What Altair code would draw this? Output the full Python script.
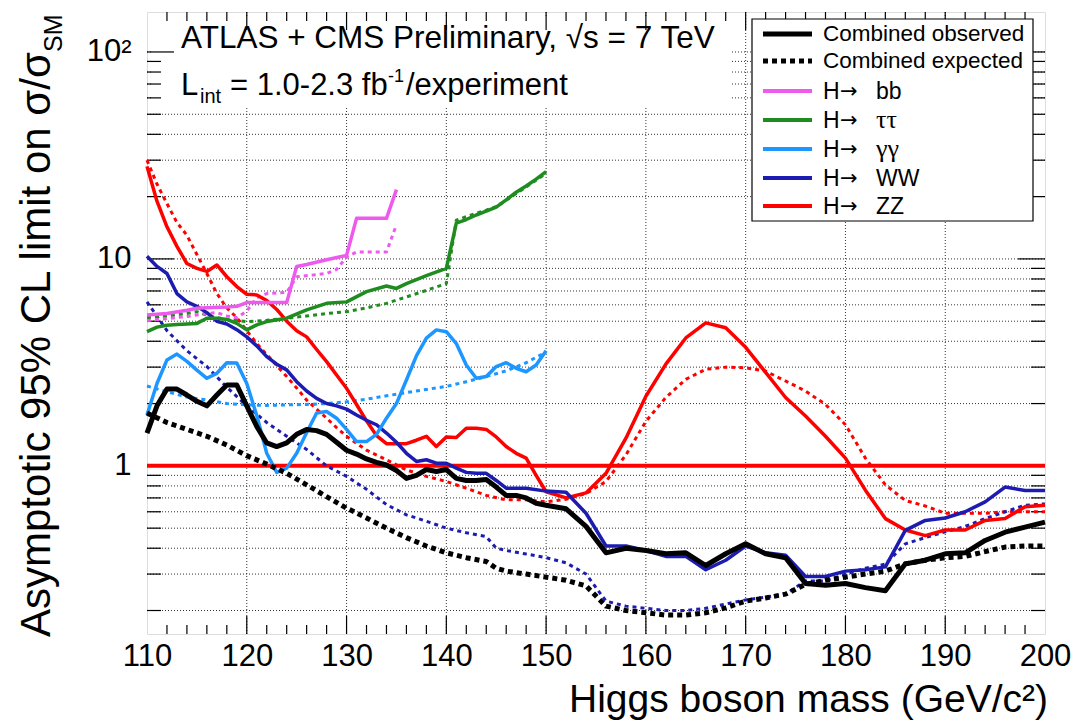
import altair as alt
import pandas as pd

FONT = "Liberation Sans"
TICKFONT = "Liberation Sans Narrow, Liberation Sans"

# ---------------- data ----------------
comb_obs_m = [110, 111, 112, 113, 114, 115, 116, 117, 118, 119, 120, 121, 122, 123, 124, 125, 126, 127, 128, 129,
              130, 131, 132, 133, 134, 135, 136, 137, 138, 139, 140, 141, 142, 143, 144, 145, 146, 147, 148, 149,
              150, 152, 154, 156, 158, 160, 162, 164, 166, 168, 170, 172, 174, 176, 178, 180, 182, 184, 186, 188,
              190, 192, 194, 196, 198, 200]
comb_obs_v = [1.44, 1.95, 2.35, 2.35, 2.2, 2.05, 1.95, 2.2, 2.46, 2.46, 1.95, 1.55, 1.29, 1.24, 1.29, 1.42, 1.5, 1.48,
              1.42, 1.3, 1.19, 1.14, 1.08, 1.04, 1.01, 0.95, 0.87, 0.9, 0.96, 0.94, 0.96, 0.87, 0.85, 0.85, 0.86,
              0.79, 0.72, 0.72, 0.7, 0.66, 0.645, 0.62, 0.51, 0.38, 0.4, 0.39, 0.376, 0.38, 0.33, 0.376, 0.42, 0.376,
              0.36, 0.27, 0.265, 0.27, 0.258, 0.249, 0.336, 0.35, 0.376, 0.38, 0.436, 0.478, 0.506, 0.535]

comb_exp_m = [110, 112, 114, 116, 118, 120, 122, 124, 126, 128, 130, 132, 134, 136, 138, 140, 142, 144, 145, 146,
              148, 150, 152, 154, 156, 158, 160, 162, 164, 166, 168, 170, 172, 174, 176, 178, 180, 182, 184, 186,
              188, 190, 192, 194, 196, 198, 200]
comb_exp_v = [1.8, 1.62, 1.5, 1.39, 1.26, 1.12, 1.02, 0.92, 0.81, 0.71, 0.625, 0.56, 0.5, 0.45, 0.41, 0.38, 0.36,
              0.345, 0.32, 0.31, 0.3, 0.29, 0.28, 0.263, 0.21, 0.2, 0.195, 0.19, 0.19, 0.195, 0.206, 0.222, 0.23,
              0.24, 0.268, 0.28, 0.29, 0.3, 0.31, 0.336, 0.35, 0.36, 0.365, 0.385, 0.405, 0.41, 0.41]

bb_obs_m = [110, 112, 114, 115, 116, 118, 119, 120, 122, 124, 125, 126, 128, 130, 131, 132, 134, 135]
bb_obs_v = [5.36, 5.45, 5.65, 5.77, 5.8, 5.85, 5.9, 6.15, 6.15, 6.15, 9.2, 9.4, 9.9, 10.4, 15.7, 15.7, 15.7, 21.6]
bb_exp_m = [110, 112, 114, 116, 117, 118, 119, 120, 121, 122, 124, 125, 128, 129, 130, 131, 134, 135]
bb_exp_v = [5.03, 5.15, 5.27, 5.45, 5.5, 5.3, 5.2, 5.6, 6.5, 6.8, 6.9, 8.2, 8.5, 8.9, 10.2, 10.8, 10.8, 14.6]

tt_obs_m = [110, 111, 112, 113, 114, 115, 116, 117, 118, 119, 120, 121, 122, 124, 126, 128, 130, 132, 134, 135,
            136, 138, 140, 141, 142, 143, 144, 145, 146, 147, 148, 149, 150]
tt_obs_v = [4.45, 4.68, 4.78, 4.82, 4.85, 4.88, 5.17, 5.17, 5.1, 4.88, 4.54, 4.8, 4.98, 5.17, 5.67, 6.1, 6.2, 6.95,
            7.4, 7.2, 7.6, 8.3, 9.0, 14.9, 15.5, 16.3, 17.0, 17.8, 19.3, 21.0, 22.5, 24.3, 26.4]
tt_exp_m = [110, 112, 114, 115, 116, 117, 118, 120, 122, 124, 126, 128, 130, 132, 134, 136, 138, 140, 141, 142,
            144, 145, 146, 148, 150]
tt_exp_v = [5.2, 5.3, 5.45, 5.56, 5.35, 5.2, 5.1, 4.98, 5.05, 5.17, 5.3, 5.45, 5.56, 5.8, 6.1, 6.55, 7.05, 7.6,
            15.4, 16.0, 17.2, 17.9, 19.2, 22.3, 25.9]

gg_obs_m = [110, 111, 112, 113, 114, 115, 116, 117, 118, 119, 120, 121, 122, 123, 124, 125, 126, 127, 128, 129,
            130, 131, 132, 133, 134, 135, 136, 137, 138, 139, 140, 141, 142, 143, 144, 145, 146, 147, 148, 149, 150]
gg_obs_v = [1.76, 2.5, 3.25, 3.47, 3.2, 2.9, 2.65, 2.8, 3.15, 3.14, 2.5, 1.75, 1.15, 0.93, 0.975, 1.15, 1.45, 1.8,
            1.83, 1.7, 1.5, 1.31, 1.31, 1.42, 1.7, 2.0, 2.6, 3.4, 4.14, 4.54, 4.45, 3.9, 3.07, 2.65, 2.7, 3.02,
            3.15, 2.96, 2.85, 3.07, 3.6]
gg_exp_m = [110, 112, 114, 116, 118, 120, 122, 124, 126, 128, 130, 132, 134, 136, 138, 140, 142, 144, 146, 148, 150]
gg_exp_v = [2.43, 2.28, 2.15, 2.08, 2.0, 1.97, 1.96, 1.97, 1.98, 2.0, 2.04, 2.1, 2.18, 2.26, 2.34, 2.42, 2.55, 2.7,
            2.88, 3.15, 3.55]

ww_obs_m = [110, 111, 112, 113, 114, 115, 116, 117, 118, 119, 120, 121, 122, 123, 124, 125, 126, 127, 128, 129,
            130, 131, 132, 133, 134, 135, 136, 137, 138, 139, 140, 141, 142, 143, 144, 145, 146, 147, 148, 150,
            152, 154, 156, 158, 160, 162, 164, 166, 168, 170, 172, 174, 176, 178, 180, 182, 184, 186, 188, 190,
            192, 194, 196, 198, 200]
ww_obs_v = [10.3, 9.2, 8.5, 6.8, 6.2, 5.9, 5.5, 5.0, 4.85, 4.55, 4.2, 3.8, 3.37, 3.1, 2.91, 2.55, 2.3, 2.12, 2.0,
            1.95, 1.88, 1.76, 1.66, 1.58, 1.44, 1.3, 1.15, 1.05, 1.07, 1.03, 1.03, 0.975, 0.93, 0.92, 0.92, 0.85,
            0.78, 0.78, 0.78, 0.755, 0.745, 0.59, 0.41, 0.41, 0.39, 0.365, 0.366, 0.315, 0.35, 0.41, 0.38, 0.37,
            0.292, 0.292, 0.31, 0.315, 0.325, 0.488, 0.545, 0.56, 0.6, 0.67, 0.79, 0.76, 0.76]
ww_exp_m = [110, 112, 114, 116, 118, 120, 122, 124, 126, 128, 130, 132, 134, 136, 138, 140, 142, 144, 145, 146,
            148, 150, 152, 154, 156, 158, 160, 162, 164, 166, 168, 170, 172, 174, 176, 178, 180, 182, 184, 186,
            188, 190, 192, 194, 196, 198, 200]
ww_exp_v = [6.2, 4.5, 3.6, 3.02, 2.4, 1.95, 1.62, 1.39, 1.2, 1.0, 0.89, 0.77, 0.65, 0.58, 0.54, 0.5, 0.475, 0.455,
            0.4, 0.39, 0.375, 0.36, 0.34, 0.3, 0.222, 0.21, 0.205, 0.2, 0.2, 0.205, 0.215, 0.225, 0.232, 0.24,
            0.278, 0.278, 0.3, 0.32, 0.335, 0.42, 0.45, 0.48, 0.51, 0.556, 0.6, 0.645, 0.655]

zz_obs_m = [110, 111, 112, 113, 114, 115, 116, 117, 118, 119, 120, 121, 122, 123, 124, 125, 126, 127, 128, 129,
            130, 131, 132, 133, 134, 135, 136, 137, 138, 139, 140, 141, 142, 143, 144, 145, 146, 147, 148, 149,
            150, 152, 154, 156, 158, 160, 162, 164, 166, 168, 170, 172, 174, 176, 178, 180, 182, 184, 186, 188,
            190, 192, 194, 196, 198, 200]
zz_obs_v = [28, 19, 14.3, 11.5, 9.5, 9.0, 8.7, 9.35, 8.2, 7.35, 6.75, 6.7, 6.3, 5.7, 5.0, 4.5, 4.2, 3.65, 3.19, 2.75,
            2.37, 1.98, 1.65, 1.4, 1.28, 1.28, 1.28, 1.33, 1.39, 1.24, 1.38, 1.37, 1.52, 1.52, 1.5, 1.38, 1.24,
            1.15, 1.09, 0.9, 0.75, 0.7, 0.74, 0.92, 1.36, 2.17, 3.1, 4.15, 4.91, 4.65, 3.74, 2.83, 2.14, 1.74,
            1.39, 1.09, 0.763, 0.556, 0.49, 0.46, 0.49, 0.49, 0.545, 0.556, 0.635, 0.645]
zz_exp_m = [110, 111, 112, 113, 114, 115, 116, 117, 118, 119, 120, 121, 122, 123, 124, 125, 126, 127, 128, 129,
            130, 132, 134, 136, 138, 140, 142, 144, 146, 148, 150, 152, 154, 156, 158, 160, 162, 164, 166, 168,
            170, 172, 174, 176, 178, 180, 182, 184, 186, 188, 190, 192, 194, 196, 198, 200]
zz_exp_v = [30, 23, 18.5, 15, 13, 10.5, 8.5, 6.8, 5.8, 5.2, 4.5, 3.9, 3.45, 3.05, 2.7, 2.38, 2.08, 1.88, 1.7, 1.53,
            1.39, 1.19, 1.07, 0.956, 0.89, 0.84, 0.78, 0.72, 0.685, 0.685, 0.67, 0.69, 0.735, 0.84, 1.13, 1.64,
            2.14, 2.62, 2.93, 3.0, 2.98, 2.87, 2.57, 2.3, 1.98, 1.58, 1.09, 0.81, 0.68, 0.64, 0.59, 0.59, 0.59,
            0.6, 0.6, 0.6]

legend_labels = ["Combined observed", "Combined expected", "bb", "\u03c4\u03c4", "\u03b3\u03b3", "WW", "ZZ"]
legend_is_channel = [False, False, True, True, True, True, True]
legend_font = [None, None, None, "Liberation Serif", "Liberation Serif", None, None]

x_major = [120, 130, 140, 150, 160, 170, 180, 190]
x_minor = [m for m in range(112, 200, 2) if m % 10 != 0]
y_major = [1, 10, 100]
y_minor = [0.2, 0.3, 0.4, 0.5, 0.6, 0.7, 0.8, 0.9, 2, 3, 4, 5, 6, 7, 8, 9, 20, 30, 40, 50, 60, 70, 80, 90]

# ---------------- styles ----------------
C_BB, C_TT, C_GG, C_WW, C_ZZ = "#ee5aee", "#1f8c1f", "#1e96ff", "#1c1cb0", "#ff0000"
styles = {
    "zz_exp": (C_ZZ, 3, [4, 4]), "ww_exp": (C_WW, 3, [4, 4]), "gg_exp": (C_GG, 3, [4, 4]),
    "tt_exp": (C_TT, 3, [4, 4]), "bb_exp": (C_BB, 3, [4, 4]),
    "zz_obs": (C_ZZ, 3.5, None), "ww_obs": (C_WW, 3.5, None), "gg_obs": (C_GG, 3.5, None),
    "tt_obs": (C_TT, 3.5, None), "bb_obs": (C_BB, 3.5, None),
    "comb_exp": ("#000000", 5, [5, 4]), "comb_obs": ("#000000", 5, None),
}
series = [
    ("zz_exp", zz_exp_m, zz_exp_v), ("ww_exp", ww_exp_m, ww_exp_v), ("gg_exp", gg_exp_m, gg_exp_v),
    ("tt_exp", tt_exp_m, tt_exp_v), ("bb_exp", bb_exp_m, bb_exp_v),
    ("zz_obs", zz_obs_m, zz_obs_v), ("ww_obs", ww_obs_m, ww_obs_v), ("gg_obs", gg_obs_m, gg_obs_v),
    ("tt_obs", tt_obs_m, tt_obs_v), ("bb_obs", bb_obs_m, bb_obs_v),
    ("comb_exp", comb_exp_m, comb_exp_v), ("comb_obs", comb_obs_m, comb_obs_v),
]
rows = []
for key, ms, vs in series:
    for m, v in zip(ms, vs):
        rows.append({"series": key, "mass": m, "value": v})
df = pd.DataFrame(rows)

W, H = 898, 622
xscale = alt.Scale(domain=[110, 200], nice=False, zero=False)
yscale = alt.Scale(type="log", domain=[0.154, 156], nice=False)
xaxis = alt.Axis(values=list(range(110, 201, 10)), grid=False, ticks=False, tickSize=0, domain=False,
                 labelFont=TICKFONT, labelFontSize=31, labelColor="black", labelPadding=31,
                 labelBaseline="alphabetic", labelFlush=False, labelOverlap=False, title=None)
yaxis = alt.Axis(values=y_minor + y_major, grid=False, ticks=False, tickSize=0, domain=False,
                 labelFont=TICKFONT, labelFontSize=31, labelColor="black", labelPadding=16,
                 labelOverlap=False, labelFlush=False,
                 labelExpr="datum.value == 1 ? '1' : datum.value == 10 ? '10' : datum.value == 100 ? '10\u00b2' : ''",
                 title=None)
X = alt.X("mass:Q", scale=xscale, axis=xaxis)
Y = alt.Y("value:Q", scale=yscale, axis=yaxis)

dummy = pd.DataFrame({"d": [0]})
layers = []

# base layer carrying the axes (invisible points)
layers.append(alt.Chart(df).mark_point(opacity=0).encode(x=X, y=Y))

# dotted grid
GRID = dict(color="#333333", strokeWidth=1, strokeDash=[1, 2])
layers.append(alt.Chart(pd.DataFrame({"mass": x_major})).mark_rule(**GRID).encode(x=X))
layers.append(alt.Chart(pd.DataFrame({"value": y_minor + y_major})).mark_rule(**GRID).encode(y=Y))

# white box behind the header text
layers.append(alt.Chart(dummy).mark_rect(fill="white").encode(
    x=alt.value(5), x2=alt.value(583), y=alt.value(6), y2=alt.value(95)))

# ticks (inside the frame, ROOT style)
xt_major = pd.DataFrame({"mass": x_major})
xt_minor = pd.DataFrame({"mass": x_minor})
yt_major = pd.DataFrame({"value": y_major})
yt_minor = pd.DataFrame({"value": y_minor})
for d, ln in ((xt_major, 18), (xt_minor, 9)):
    layers.append(alt.Chart(d).mark_rule(color="black", strokeWidth=1.2).encode(
        x=X, y=alt.value(H), y2=alt.value(H - ln)))
    layers.append(alt.Chart(d).mark_rule(color="black", strokeWidth=1.2).encode(
        x=X, y=alt.value(0), y2=alt.value(ln)))
for d, ln in ((yt_major, 27), (yt_minor, 14)):
    layers.append(alt.Chart(d).mark_rule(color="black", strokeWidth=1.2).encode(
        y=Y, x=alt.value(0), x2=alt.value(ln)))
    layers.append(alt.Chart(d).mark_rule(color="black", strokeWidth=1.2).encode(
        y=Y, x=alt.value(W), x2=alt.value(W - ln)))

# unity line
layers.append(alt.Chart(pd.DataFrame({"value": [1]})).mark_rule(color=C_ZZ, strokeWidth=4).encode(y=Y))

# curves
for key, _, _ in series:
    color, sw, dash = styles[key]
    kw = dict(color=color, strokeWidth=sw, strokeJoin="round")
    if dash:
        kw["strokeDash"] = dash
    layers.append(alt.Chart(df).transform_filter(alt.datum.series == key).mark_line(**kw).encode(
        x=X, y=Y, order="mass:Q"))


def text(s, x, y, size, angle=0, align="left", baseline="alphabetic", font=FONT):
    return alt.Chart(dummy).mark_text(text=s, font=font, fontSize=size, angle=angle, align=align,
                                      baseline=baseline, color="black").encode(
        x=alt.value(x), y=alt.value(y))


# header text
layers.append(text("ATLAS + CMS Preliminary, \u221as = 7 TeV", 34, 36, 31.5))
layers.append(text("L", 34, 83, 31))
layers.append(text("int", 53, 91, 20))
layers.append(text("= 1.0-2.3 fb", 83, 83, 31))
layers.append(text("-1", 241, 70, 18))
layers.append(text("/experiment", 259, 83, 31))

# legend
layers.append(alt.Chart(dummy).mark_rect(fill="white", stroke="black", strokeWidth=1.2).encode(
    x=alt.value(605), x2=alt.value(886), y=alt.value(7), y2=alt.value(209)))
leg_styles = [("#000000", 5, None), ("#000000", 5, [5, 4]), (C_BB, 4, None), (C_TT, 4, None),
              (C_GG, 4, None), (C_WW, 4, None), (C_ZZ, 4, None)]
leg_y = [22, 49, 79, 108, 137, 166, 194]
for lab, chan, lf, (col, sw, dash), yy in zip(legend_labels, legend_is_channel, legend_font, leg_styles, leg_y):
    kw = dict(color=col, strokeWidth=sw)
    if dash:
        kw["strokeDash"] = dash
    layers.append(alt.Chart(dummy).mark_rule(**kw).encode(
        x=alt.value(616), x2=alt.value(665), y=alt.value(yy)))
    if chan:
        layers.append(text("H", 676, yy + 8, 23))
        layers.append(text("\u2192", 693, yy + 7, 21, font="DejaVu Sans"))
        layers.append(text(lab, 729, yy + 8, 26 if lf else 23, font=lf or FONT))
    else:
        layers.append(text(lab, 676, yy, 22.5, baseline="middle"))

# axis titles
layers.append(text("Asymptotic 95% CL limit on \u03c3/\u03c3", -97, 625, 42, angle=270))
layers.append(text("SM", -85, 40, 25, angle=270))
layers.append(text("Higgs boson mass (GeV/c\u00b2)", 901, 700, 39, align="right"))

chart = alt.layer(*layers).properties(
    width=W, height=H, autosize="none",
    padding={"left": 147, "top": 12, "right": 30, "bottom": 89},
).configure_view(stroke="black", strokeWidth=2).configure(background="white")

chart.save("out.html", embed_options={"renderer": "svg", "actions": False})
